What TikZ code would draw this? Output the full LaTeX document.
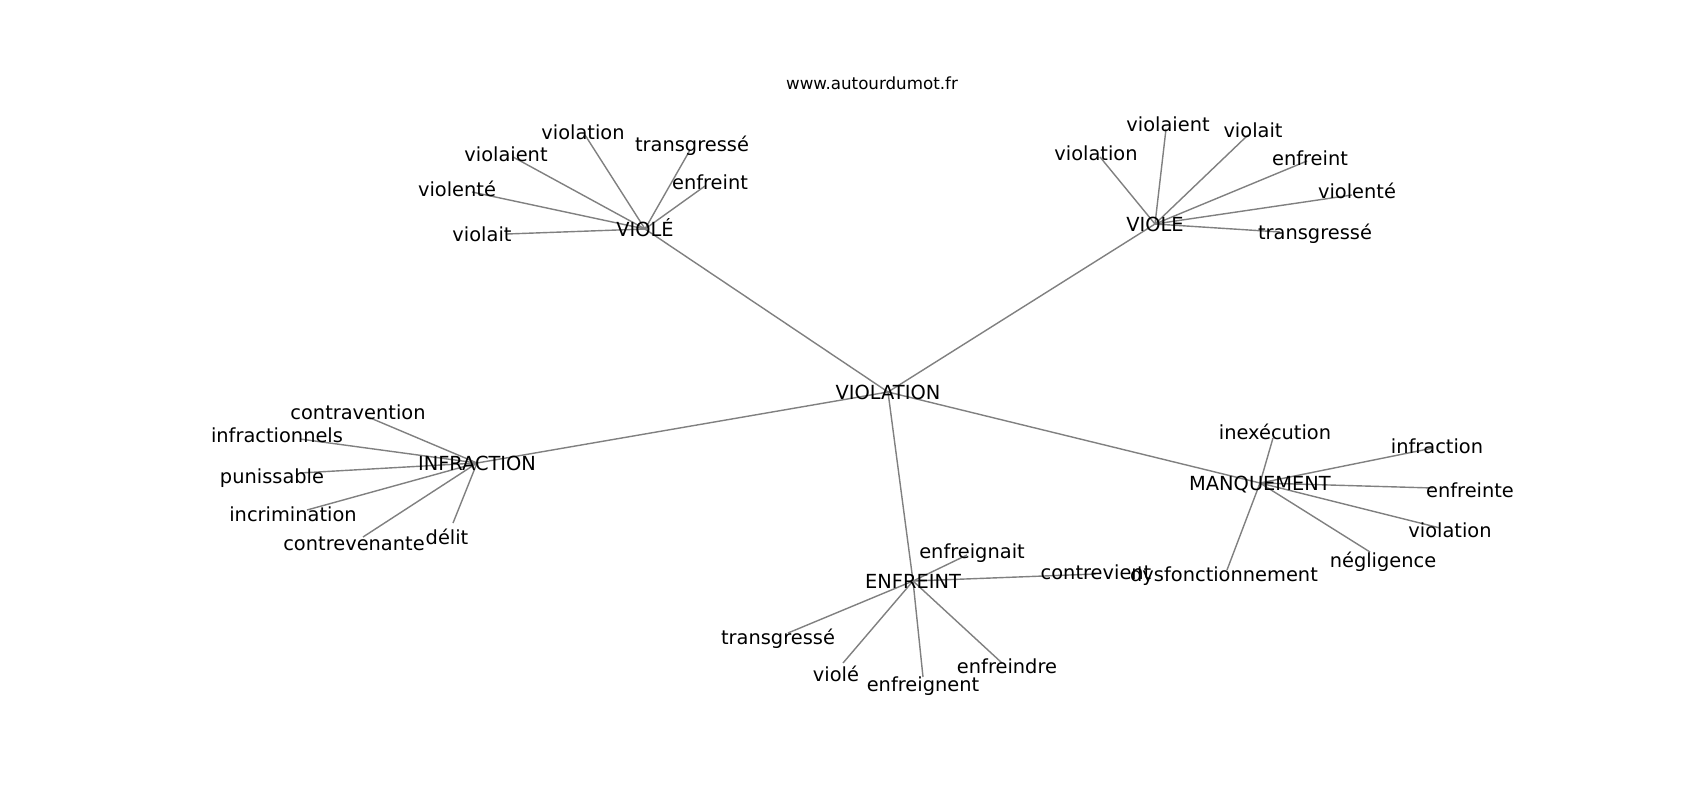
\documentclass[tikz,border=0pt]{standalone}
\usepackage{fontspec}
\setmainfont{DejaVu Sans}
\usetikzlibrary{backgrounds}
\begin{document}
\begin{tikzpicture}[x=1pt,y=-1pt,
  lbl/.style={font=\fontsize{19.4}{23}\selectfont, inner sep=0pt, text height=14.4pt, text depth=0pt, anchor=center},
  ttl/.style={font=\fontsize{16.7}{20}\selectfont, inner sep=0pt, text height=12.4pt, text depth=0pt, anchor=center},
  link/.style={draw=gray, line width=1.4pt}]
\useasboundingbox (0,0) rectangle (1700,800);
\node[ttl] (title) at (872,83) {www.autourdumot.fr};
% hubs
\node[lbl] (VIOLATION) at (888,392) {VIOLATION};
\node[lbl] (VIOLEa) at (645,229) {VIOLÉ};
\node[lbl] (VIOLEb) at (1155,224) {VIOLE};
\node[lbl] (INFRACTION) at (477,463) {INFRACTION};
\node[lbl] (MANQUEMENT) at (1260,483) {MANQUEMENT};
\node[lbl] (ENFREINT) at (913,581) {ENFREINT};
% VIOLÉ leaves
\node[lbl] (a1) at (583,132) {violation};
\node[lbl] (a2) at (506,154) {violaient};
\node[lbl] (a3) at (457,189) {violenté};
\node[lbl] (a4) at (482,234) {violait};
\node[lbl] (a5) at (692,144) {transgressé};
\node[lbl] (a6) at (710,182) {enfreint};
% VIOLE leaves
\node[lbl] (b1) at (1096,153) {violation};
\node[lbl] (b2) at (1168,124) {violaient};
\node[lbl] (b3) at (1253,130) {violait};
\node[lbl] (b4) at (1310,158) {enfreint};
\node[lbl] (b5) at (1357,191) {violenté};
\node[lbl] (b6) at (1315,232) {transgressé};
% INFRACTION leaves
\node[lbl] (c1) at (358,412) {contravention};
\node[lbl] (c2) at (277,435) {infractionnels};
\node[lbl] (c3) at (272,476) {punissable};
\node[lbl] (c4) at (293,514) {incrimination};
\node[lbl] (c5) at (354,543) {contrevenante};
\node[lbl] (c6) at (447,537) {délit};
% MANQUEMENT leaves
\node[lbl] (d1) at (1275,432) {inexécution};
\node[lbl] (d2) at (1437,446) {infraction};
\node[lbl] (d3) at (1470,490) {enfreinte};
\node[lbl] (d4) at (1450,530) {violation};
\node[lbl] (d5) at (1383,560) {négligence};
\node[lbl] (d6) at (1224,574) {dysfonctionnement};
% ENFREINT leaves
\node[lbl] (e1) at (972,551) {enfreignait};
\node[lbl] (e2) at (1096,572) {contrevient};
\node[lbl] (e3) at (778,637) {transgressé};
\node[lbl] (e4) at (836,674) {violé};
\node[lbl] (e5) at (923,684) {enfreignent};
\node[lbl] (e6) at (1007,666) {enfreindre};
\begin{scope}[on background layer]
\fill[white] (0,0) rectangle (1700,800);
\draw[link] (VIOLATION.center) -- (VIOLEa.center);
\draw[link] (VIOLATION.center) -- (VIOLEb.center);
\draw[link] (VIOLATION.center) -- (INFRACTION.center);
\draw[link] (VIOLATION.center) -- (MANQUEMENT.center);
\draw[link] (VIOLATION.center) -- (ENFREINT.center);
\draw[link] (VIOLEa.center) -- ([shift={(2,3)}]a1.center);
\draw[link] (VIOLEa.center) -- ([shift={(7,3)}]a2.center);
\draw[link] (VIOLEa.center) -- ([shift={(15,3)}]a3.center);
\draw[link] (VIOLEa.center) -- ([shift={(25,0)}]a4.center);
\draw[link] (VIOLEa.center) -- ([shift={(-2,6)}]a5.center);
\draw[link] (VIOLEa.center) -- ([shift={(-5,4)}]a6.center);
\draw[link] (VIOLEb.center) -- ([shift={(4,4)}]b1.center);
\draw[link] (VIOLEb.center) -- ([shift={(-2,5)}]b2.center);
\draw[link] (VIOLEb.center) -- ([shift={(-5,5)}]b3.center);
\draw[link] (VIOLEb.center) -- ([shift={(-3,3)}]b4.center);
\draw[link] (VIOLEb.center) -- ([shift={(-5,4)}]b5.center);
\draw[link] (VIOLEb.center) -- ([shift={(-35,0)}]b6.center);
\draw[link] (INFRACTION.center) -- ([shift={(10,5)}]c1.center);
\draw[link] (INFRACTION.center) -- ([shift={(23,4)}]c2.center);
\draw[link] (INFRACTION.center) -- ([shift={(28,-3)}]c3.center);
\draw[link] (INFRACTION.center) -- ([shift={(14,-4)}]c4.center);
\draw[link] (INFRACTION.center) -- ([shift={(9,-6)}]c5.center);
\draw[link] (INFRACTION.center) -- ([shift={(6,-14)}]c6.center);
\draw[link] (MANQUEMENT.center) -- ([shift={(-2,6)}]d1.center);
\draw[link] (MANQUEMENT.center) -- ([shift={(-4,2)}]d2.center);
\draw[link] (MANQUEMENT.center) -- ([shift={(-37,-2)}]d3.center);
\draw[link] (MANQUEMENT.center) -- ([shift={(-10,-2)}]d4.center);
\draw[link] (MANQUEMENT.center) -- ([shift={(-13,-8)}]d5.center);
\draw[link] (MANQUEMENT.center) -- ([shift={(3,-4)}]d6.center);
\draw[link] (ENFREINT.center) -- ([shift={(-5,4)}]e1.center);
\draw[link] (ENFREINT.center) -- ([shift={(0,2)}]e2.center);
\draw[link] (ENFREINT.center) -- ([shift={(10,-4)}]e3.center);
\draw[link] (ENFREINT.center) -- ([shift={(7,-11)}]e4.center);
\draw[link] (ENFREINT.center) -- ([shift={(0,-7)}]e5.center);
\draw[link] (ENFREINT.center) -- ([shift={(-5,-3)}]e6.center);
\end{scope}
\end{tikzpicture}
\end{document}
